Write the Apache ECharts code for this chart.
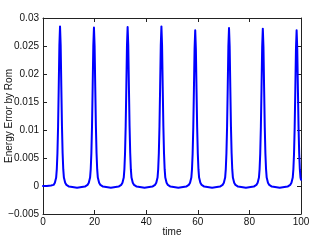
<!DOCTYPE html>
<html>
<head>
<meta charset="utf-8">
<script src="https://cdn.jsdelivr.net/npm/echarts@6/dist/echarts.min.js"></script>
<style>
html,body{margin:0;padding:0;background:#fff;}
#c{width:332px;height:241px;}
</style>
</head>
<body>
<div id="c"></div>
<script>
const xLabel = 'time';
const yLabel = 'Energy Error by Rom';
const xTicks = [0, 20, 40, 60, 80, 100];
const yTicks = [-0.005, 0, 0.005, 0.01, 0.015, 0.02, 0.025, 0.03];

const times = [
  0, 1.5, 3.1,
  4.1, 4.6, 5.1, 5.35, 5.6, 5.85, 6.1, 6.35, 6.6, 6.85, 7.1, 7.35, 7.6, 7.85, 8.1, 8.6, 9.1, 10.1,
  13.2,
  16.25, 17.25, 17.75, 18.25, 18.5, 18.75, 19.0, 19.25, 19.5, 19.75, 20.0, 20.25, 20.5, 20.75, 21.0, 21.25, 21.75, 22.25, 23.25,
  26.3,
  29.3, 30.3, 30.8, 31.3, 31.55, 31.8, 32.05, 32.3, 32.55, 32.8, 33.05, 33.3, 33.55, 33.8, 34.05, 34.3, 34.8, 35.3, 36.3,
  39.35,
  42.4, 43.4, 43.9, 44.4, 44.65, 44.9, 45.15, 45.4, 45.65, 45.9, 46.15, 46.4, 46.65, 46.9, 47.15, 47.4, 47.9, 48.4, 49.4,
  52.45,
  55.5, 56.5, 57.0, 57.5, 57.75, 58.0, 58.25, 58.5, 58.75, 59.0, 59.25, 59.5, 59.75, 60.0, 60.25, 60.5, 61.0, 61.5, 62.5,
  65.55,
  68.6, 69.6, 70.1, 70.6, 70.85, 71.1, 71.35, 71.6, 71.85, 72.1, 72.35, 72.6, 72.85, 73.1, 73.35, 73.6, 74.1, 74.6, 75.6,
  78.65,
  81.7, 82.7, 83.2, 83.7, 83.95, 84.2, 84.45, 84.7, 84.95, 85.2, 85.45, 85.7, 85.95, 86.2, 86.45, 86.7, 87.2, 87.7, 88.7,
  91.75,
  94.8, 95.8, 96.3, 96.8, 97.05, 97.3, 97.55, 97.8, 98.05, 98.3, 98.55, 98.8, 99.05, 99.3, 99.55, 99.8, 100
];

const energyError = [
  0, 0.0000, 0.0001,
  0.0002, 0.0006, 0.0015, 0.0030, 0.0059, 0.0107, 0.0177, 0.0251, 0.0285, 0.0251, 0.0177, 0.0107, 0.0059, 0.0030, 0.0015, 0.0006, 0.0002, -0.0001,
  -0.0003,
  -0.0001, 0.0002, 0.0006, 0.0015, 0.0030, 0.0059, 0.0107, 0.0177, 0.0250, 0.0283, 0.0250, 0.0177, 0.0107, 0.0059, 0.0030, 0.0015, 0.0006, 0.0002, -0.0001,
  -0.0003,
  -0.0001, 0.0002, 0.0006, 0.0015, 0.0030, 0.0059, 0.0107, 0.0177, 0.0251, 0.0284, 0.0251, 0.0177, 0.0107, 0.0059, 0.0030, 0.0015, 0.0006, 0.0002, -0.0001,
  -0.0003,
  -0.0001, 0.0002, 0.0006, 0.0015, 0.0030, 0.0059, 0.0107, 0.0177, 0.0251, 0.0285, 0.0251, 0.0177, 0.0107, 0.0059, 0.0030, 0.0015, 0.0006, 0.0002, -0.0001,
  -0.0003,
  -0.0001, 0.0002, 0.0006, 0.0015, 0.0030, 0.0058, 0.0105, 0.0173, 0.0245, 0.0278, 0.0245, 0.0173, 0.0105, 0.0058, 0.0030, 0.0015, 0.0006, 0.0002, -0.0001,
  -0.0003,
  -0.0001, 0.0002, 0.0006, 0.0015, 0.0030, 0.0059, 0.0106, 0.0176, 0.0249, 0.0282, 0.0249, 0.0176, 0.0106, 0.0059, 0.0030, 0.0015, 0.0006, 0.0002, -0.0001,
  -0.0003,
  -0.0001, 0.0002, 0.0006, 0.0015, 0.0030, 0.0058, 0.0106, 0.0175, 0.0248, 0.0281, 0.0248, 0.0175, 0.0106, 0.0058, 0.0030, 0.0015, 0.0006, 0.0002, -0.0001,
  -0.0003,
  -0.0001, 0.0002, 0.0006, 0.0015, 0.0030, 0.0058, 0.0105, 0.0173, 0.0245, 0.0278, 0.0245, 0.0173, 0.0105, 0.0058, 0.0030, 0.0015, 0.0011
];

const data = times.map((t, i) => [t, energyError[i]]);
const fontFamily = '"Liberation Sans", Arial, Helvetica, sans-serif';
const axisColor = '#222';

function fmtY(v) {
  const r = parseFloat(Math.abs(v).toFixed(4));
  return (v < 0 ? '\u2212' : '') + r;
}

const chart = echarts.init(document.getElementById('c'), null, {renderer: 'canvas'});
const xMin = xTicks[0], xMax = xTicks[xTicks.length - 1], xInt = xTicks[1] - xTicks[0];
const yMin = yTicks[0], yMax = yTicks[yTicks.length - 1], yInt = 0.005;

const common = {
  axisLine: {show: true, onZero: false, lineStyle: {color: axisColor, width: 1}},
  axisTick: {show: true, inside: true, length: 4, lineStyle: {color: axisColor}},
  splitLine: {show: false}
};

chart.setOption({
  animation: false,
  backgroundColor: '#fff',
  grid: {left: 43, right: 31, top: 18, bottom: 27, containLabel: false, outerBoundsMode: 'none'},
  xAxis: [
    Object.assign({
      type: 'value', position: 'bottom', min: xMin, max: xMax, interval: xInt,
      name: xLabel, nameLocation: 'middle', nameGap: 13, nameMoveOverlap: false,
      nameTextStyle: {color: '#111', fontSize: 10, fontFamily: fontFamily},
      axisLabel: {color: '#111', fontSize: 10, fontFamily: fontFamily, margin: 3}
    }, common),
    Object.assign({
      type: 'value', position: 'top', min: xMin, max: xMax, interval: xInt,
      axisLabel: {show: false}
    }, common)
  ],
  yAxis: [
    Object.assign({
      type: 'value', position: 'left', min: yMin, max: yMax, interval: yInt,
      name: yLabel, nameLocation: 'middle', nameGap: 29, nameMoveOverlap: false,
      nameTextStyle: {color: '#111', fontSize: 10, fontFamily: fontFamily},
      axisLabel: {color: '#111', fontSize: 10, fontFamily: fontFamily, margin: 4, formatter: fmtY}
    }, common),
    Object.assign({
      type: 'value', position: 'right', min: yMin, max: yMax, interval: yInt,
      axisLabel: {show: false}
    }, common)
  ],
  series: [{
    type: 'line',
    xAxisIndex: 0, yAxisIndex: 0,
    data: data,
    showSymbol: false,
    lineStyle: {color: '#0000ff', width: 2, join: 'round', cap: 'round'},
    clip: true
  }]
});
</script>
</body>
</html>
